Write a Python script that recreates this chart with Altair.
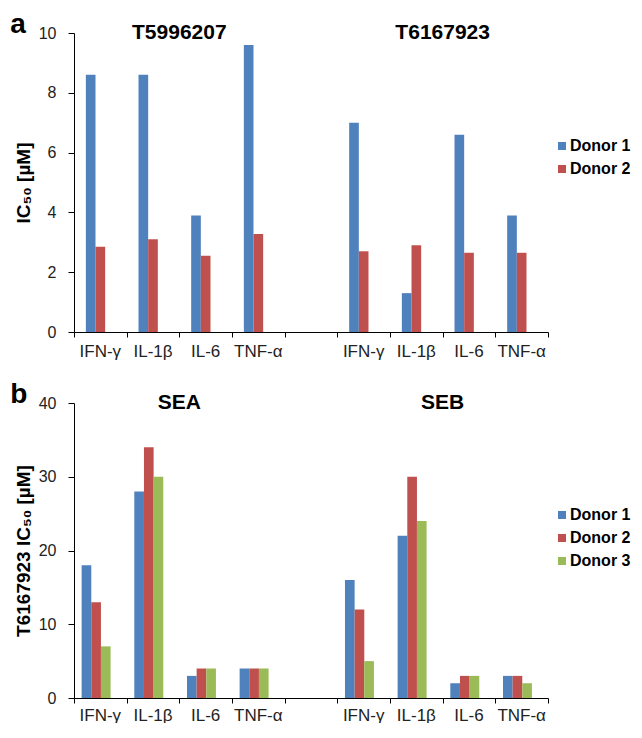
import altair as alt
import pandas as pd

# ---------------- data ----------------
cytokines = ["IFN-γ", "IL-1β", "IL-6", "TNF-α"]

groups_a = ["T5996207", "T6167923"]
donors_a = ["Donor 1", "Donor 2"]
a_t5996207_donor1 = [8.6, 8.6, 3.9, 9.6]
a_t5996207_donor2 = [2.85, 3.1, 2.55, 3.28]
a_t6167923_donor1 = [7.0, 1.3, 6.6, 3.9]
a_t6167923_donor2 = [2.7, 2.9, 2.65, 2.65]

groups_b = ["SEA", "SEB"]
donors_b = ["Donor 1", "Donor 2", "Donor 3"]
b_sea_donor1 = [18, 28, 3, 4]
b_sea_donor2 = [13, 34, 4, 4]
b_sea_donor3 = [7, 30, 4, 4]
b_seb_donor1 = [16, 22, 2, 3]
b_seb_donor2 = [12, 30, 3, 3]
b_seb_donor3 = [5, 24, 3, 2]

donor_colors = ["#4F81BD", "#C0504D", "#9BBB59"]

FONT = "Liberation Sans"


def make_panel(groups, donors, series, ymax, ystep, width, height, ytitle,
               letter, pad_inner, legend_x, legend_y, title_pad, letter_dx, letter_dy,
               xlabel_pad):
    # slots: group1 cytokines, empty gap, group2 cytokines
    slots = []
    for gi, g in enumerate(groups):
        if gi > 0:
            slots.append("gap")
        for c in cytokines:
            slots.append(f"{gi}{c}")
    nslots = len(slots)

    rows = []
    for gi, g in enumerate(groups):
        for di, d in enumerate(donors):
            vals = series[g][di]
            for ci, c in enumerate(cytokines):
                rows.append({"slot": f"{gi}{c}", "donor": d, "value": vals[ci]})
    df = pd.DataFrame(rows)

    bars = alt.Chart(df).mark_bar().encode(
        x=alt.X("slot:N",
                scale=alt.Scale(domain=slots, paddingInner=pad_inner,
                                paddingOuter=pad_inner / 2),
                axis=alt.Axis(title=None, ticks=False, domain=False, orient="bottom",
                              labelExpr="datum.value == 'gap' ? '' : slice(datum.label, 1)",
                              labelAngle=0, labelFontSize=17, labelPadding=xlabel_pad,
                              labelColor="#222222", labelFont=FONT)),
        xOffset=alt.XOffset("donor:N", scale=alt.Scale(domain=donors, paddingInner=0,
                                                       paddingOuter=0)),
        y=alt.Y("value:Q",
                scale=alt.Scale(domain=[0, ymax], nice=False),
                axis=alt.Axis(values=list(range(0, ymax + 1, ystep)), title=ytitle,
                              grid=False, tickSize=6, labelFontSize=16, labelPadding=12,
                              labelColor="#222222", domainColor="black", tickColor="black",
                              titleFontSize=19, titleFontWeight="bold", titleColor="black",
                              titlePadding=title_pad, titleFont=FONT, labelFont=FONT)),
        color=alt.Color("donor:N",
                        scale=alt.Scale(domain=donors, range=donor_colors[:len(donors)]),
                        legend=alt.Legend(title=None, orient="none", legendX=legend_x,
                                          legendY=legend_y, symbolType="square",
                                          symbolSize=64, symbolStrokeWidth=0,
                                          labelFontSize=16, labelFontWeight="bold",
                                          labelFont=FONT, labelColor="black",
                                          rowPadding=7, labelOffset=0, padding=0)),
    )

    tick_df = pd.DataFrame({"t": list(range(nslots + 1))})
    ticks = alt.Chart(tick_df).mark_rule(opacity=0).encode(
        x=alt.X("t:Q", scale=alt.Scale(domain=[0, nslots], nice=False, zero=False),
                axis=alt.Axis(values=list(range(nslots + 1)), labels=False, ticks=True,
                              tickSize=5, domain=True, grid=False, title=None,
                              orient="bottom", domainColor="black", tickColor="black",
                              domainWidth=1.2))
    )

    per = len(cytokines) + 1
    tdf = pd.DataFrame({"label": groups,
                        "center": [gi * per + len(cytokines) / 2 for gi in range(len(groups))],
                        "value": [ymax] * len(groups)})
    titles = alt.Chart(tdf).mark_text(fontSize=21, fontWeight="bold", baseline="middle",
                                      font=FONT, color="black").encode(
        x=alt.X("center:Q", scale=alt.Scale(domain=[0, nslots], nice=False, zero=False),
                axis=None),
        y=alt.Y("value:Q"),
        text="label:N",
    )

    return alt.layer(bars, ticks, titles).resolve_scale(x="independent").properties(
        width=width, height=height,
        title=alt.TitleParams(letter, anchor="start", frame="bounds", fontSize=28,
                              fontWeight="bold", font=FONT, color="black",
                              offset=-17, dx=letter_dx, dy=letter_dy),
    )


panel_a = make_panel(groups_a, donors_a,
                     {"T5996207": [a_t5996207_donor1, a_t5996207_donor2],
                      "T6167923": [a_t6167923_donor1, a_t6167923_donor2]},
                     10, 2, 474, 299, "IC₅₀ [µM]", "a", 0.45, 480, 105, 5, -4, 0, 11)

panel_b = make_panel(groups_b, donors_b,
                     {"SEA": [b_sea_donor1, b_sea_donor2, b_sea_donor3],
                      "SEB": [b_seb_donor1, b_seb_donor2, b_seb_donor3]},
                     40, 10, 474, 295, "T6167923 IC₅₀ [µM]", "b", 0.29, 480, 104, 5, -4, 0, 9)

chart = alt.vconcat(panel_a, panel_b, spacing=22).resolve_scale(color="independent")
chart = chart.configure(font=FONT,
                        padding={"left": 2, "top": 3, "right": 0, "bottom": 0})
chart = chart.configure_view(stroke=None)

chart.save("out.html", embed_options={"renderer": "svg", "actions": False})
